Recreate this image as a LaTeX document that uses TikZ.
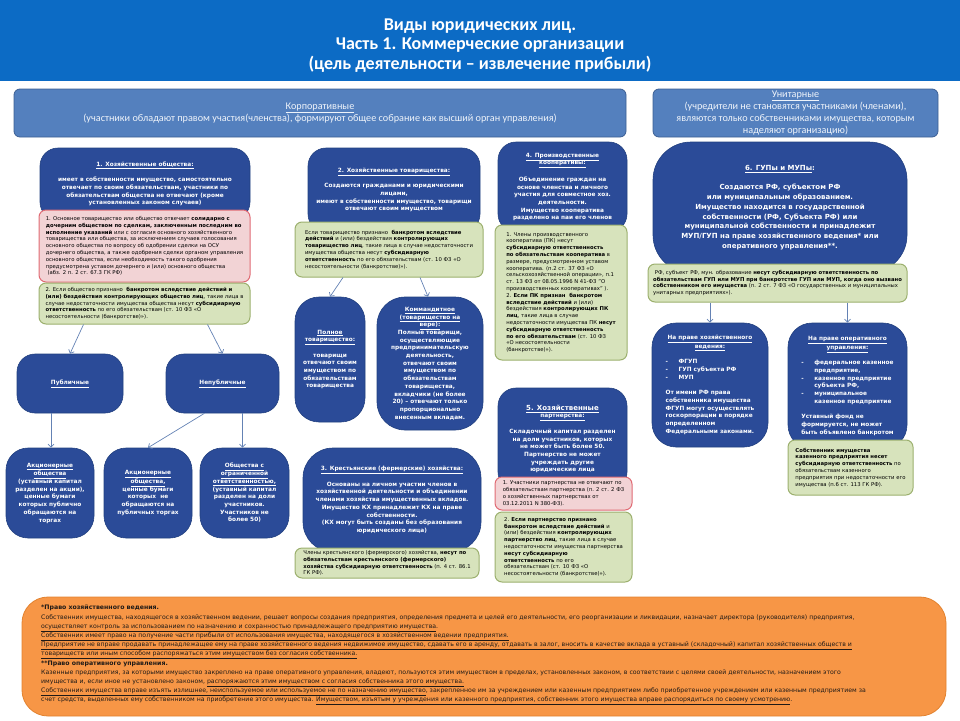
\documentclass[tikz,border=0pt]{standalone}
\usepackage{fontspec}
\setmainfont{DejaVu Sans}
\newfontfamily\calibfont{Carlito}
\usetikzlibrary{arrows.meta,positioning}
\definecolor{jlhead}{HTML}{0C6BC5}
\definecolor{jlband}{HTML}{5480BE}
\definecolor{jlbandline}{HTML}{3C5F93}
\definecolor{jlbandtext}{HTML}{EEF3FA}
\definecolor{jldark}{HTML}{2B4B98}
\definecolor{jldarkline}{HTML}{22407F}
\definecolor{jlpink}{HTML}{F2D3D5}
\definecolor{jlpinkline}{HTML}{E06B74}
\definecolor{jlgreen}{HTML}{D7E3BC}
\definecolor{jlgreenline}{HTML}{9CB06E}
\definecolor{jlorange}{HTML}{F79646}
\definecolor{jlorangeline}{HTML}{E2822F}
\definecolor{jlorangetext}{HTML}{1F1A17}
\definecolor{jlarrow}{HTML}{6482B4}
\newcommand{\titlefnt}{\calibfont\bfseries\fontsize{18}{19.3}\selectfont}
\newcommand{\bandfnt}{\calibfont\fontsize{10.2}{12}\selectfont}
\newcommand{\boxfnt}{\bfseries\fontsize{5.8}{7.7}\selectfont}
\newcommand{\bigboxfnt}{\bfseries\fontsize{7}{9.7}\selectfont}
\newcommand{\notefnt}{\fontsize{5.3}{6.8}\selectfont}
\newcommand{\orangefnt}{\fontsize{6.2}{9.2}\selectfont}

\begin{document}
\begin{tikzpicture}[x=1pt, y=-1pt,
    headband/.style={fill=jlhead, minimum width=960pt, minimum height=81pt, inner sep=0pt},
    band/.style={draw=jlbandline, fill=jlband, line width=0.8pt, rounded corners=6pt,
                 inner sep=0pt, text=jlbandtext, font=\bandfnt, align=center},
    darkbox/.style={draw=jldarkline, fill=jldark, line width=0.6pt, rounded corners=18pt,
                    inner sep=0pt, text=white, font=\boxfnt, align=center},
    pinknote/.style={draw=jlpinkline, fill=jlpink, line width=1pt, rounded corners=7pt,
                     inner sep=0pt, font=\notefnt, align=left},
    greennote/.style={draw=jlgreenline, fill=jlgreen, line width=1pt, rounded corners=7pt,
                      inner sep=0pt, font=\notefnt, align=left},
    arrow/.style={-{Straight Barb[length=3pt,width=6pt]}, draw=jlarrow, line width=0.7pt}
  ]
  \useasboundingbox (0,0) rectangle (960,720);

  % header and the two kinds
  \node[headband] (head) at (480,40.5) {};
  \node[text=white, font=\titlefnt, align=center, inner sep=0pt] (title) at (480,45.5) {Виды юридических лиц.\\Часть 1. Коммерческие организации\\(цель деятельности – извлечение прибыли)};
  \node[band, minimum width=612pt, minimum height=48pt] (corp) at (320,113)
    {\underline{Корпоративные}\\(участники обладают правом участия(членства), формируют общее собрание как высший орган управления)};
  \node[band, minimum width=285pt, minimum height=48pt] (unit) at (795.5,113)
    {\underline{Унитарные}\\(учредители не становятся участниками (членами),\\являются только собственниками имущества, которым\\наделяют организацию)};

  % 1. societies
  \node[darkbox, minimum width=210pt, minimum height=72pt] (hoz) at (145,184)
    {\underline{1. Хозяйственные общества:}\\[7.7pt]имеет в собственности имущество, самостоятельно\\отвечает по своим обязательствам, участники по\\обязательствам общества не отвечают (кроме\\установленных законом случаев)};
  \node[pinknote, minimum width=211pt, minimum height=72pt] (osn) at (144.5,246)
    {1. Основное товарищество или общество отвечает \textbf{солидарно с}\\
     \textbf{дочерним обществом по сделкам, заключенным последним во}\\
     \textbf{исполнение указаний} или с согласия основного хозяйственного\\
     товарищества или общества, за исключением случаев голосования\\
     основного общества по вопросу об одобрении сделки на ОСУ\\
     дочернего общества, а также одобрения сделки органом управления\\
     основного общества, если необходимость такого одобрения\\
     предусмотрена уставом дочернего и (или) основного общества\\
     \ (абз. 2 п. 2 ст. 67.3 ГК РФ)};
  \node[greennote, minimum width=211pt, minimum height=41pt] (bank1) at (144.5,303.5)
    {2. Если общество признано \ \textbf{банкротом вследствие действий и}\\
     \textbf{(или) бездействия контролирующих общество лиц}, такие лица в\\
     случае недостаточности имущества общества несут \textbf{субсидиарную}\\
     \textbf{ответственность} по его обязательствам (ст. 10 ФЗ «О\\
     несостоятельности (банкротстве)»).};
  \node[darkbox, minimum width=106pt, minimum height=59pt] (pub) at (70,383.5) {\underline{Публичные}};
  \node[darkbox, minimum width=113pt, minimum height=59pt] (npub) at (222.5,383.5) {\underline{Непубличные}};
  \node[darkbox, rounded corners=22pt, minimum width=88pt, minimum height=90pt] (aopub) at (50,493)
    {\underline{Акционерные}\\\underline{общества}\\(уставный капитал\\разделен на акции),\\ценные бумаги\\которых публично\\обращаются на\\торгах};
  \node[darkbox, rounded corners=22pt, minimum width=88pt, minimum height=90pt] (aonpub) at (148,493)
    {\underline{Акционерные}\\\underline{общества,}\\ценные бумаги\\которых \ не\\обращаются на\\публичных торгах};
  \node[darkbox, rounded corners=22pt, minimum width=89pt, minimum height=90pt] (ooo) at (244.5,493)
    {\underline{Общества с}\\\underline{ограниченной}\\\underline{ответственностью,}\\(уставный капитал\\разделен на доли\\участников.\\Участников не\\более 50)};
  \draw[arrow] ([xshift=-61pt]bank1.south) -- (pub.north);
  \draw[arrow] ([xshift=63pt]bank1.south) -- (npub.north);
  \draw[arrow] ([xshift=-19pt]pub.south) -- ([xshift=1pt]aopub.north);
  \draw[arrow] ([xshift=-18pt]npub.south) -- (aonpub.north);
  \draw[arrow] ([xshift=20pt]npub.south) -- ([xshift=-2pt]ooo.north);

  % 2. partnerships
  \node[darkbox, minimum width=172pt, minimum height=84pt] (tov) at (394,190)
    {\underline{2. Хозяйственные товарищества:}\\[7.7pt]Создаются гражданами и юридическими\\лицами,\\имеют в собственности имущество, товарищи\\отвечают своим имуществом};
  \node[greennote, minimum width=188pt, minimum height=55pt] (bank2) at (389,249.5)
    {Если товарищество признано \ \textbf{банкротом вследствие}\\
     \textbf{действий} и (или) бездействия \textbf{контролирующих}\\
     \textbf{товарищество лиц}, такие лица в случае недостаточности\\
     имущества общества несут \textbf{субсидиарную}\\
     \textbf{ответственность} по его обязательствам (ст. 10 ФЗ «О\\
     несостоятельности (банкротстве)»).};
  \node[darkbox, rounded corners=24pt, minimum width=70pt, minimum height=125pt] (poln) at (330,359.5)
    {\underline{Полное}\\\underline{товарищество:}\\[7.7pt]товарищи\\отвечают своим\\имуществом по\\обязательствам\\товарищества};
  \node[darkbox, rounded corners=28pt, minimum width=106pt, minimum height=133pt] (komm) at (430,363.5)
    {\underline{Коммандитное}\\\underline{(товарищество на}\\\underline{вере):}\\Полные товарищи,\\осуществляющие\\предпринимательскую\\деятельность,\\отвечают своим\\имуществом по\\обязательствам\\товарищества,\\вкладчики (не более\\20) – отвечают только\\пропорционально\\внесенным вкладам.};
  \draw[arrow] ([xshift=-46pt]bank2.south) -- (poln.north);
  \draw[arrow] ([xshift=31pt]bank2.south) -- ([xshift=-2pt]komm.north);

  % 3. farms
  \node[darkbox, rounded corners=30pt, minimum width=178pt, minimum height=104pt] (kfh) at (392,500)
    {\underline{3. Крестьянские (фермерские) хозяйства:}\\[7.7pt]Основаны на личном участии членов в\\хозяйственной деятельности и объединении\\членами хозяйства имущественных вкладов.\\Имущество КХ принадлежит КХ на праве\\собственности.\\(КХ могут быть созданы без образования\\юридического лица)};
  \node[greennote, minimum width=184pt, minimum height=30pt] (kfhnote) at (387,563)
    {Члены крестьянского (фермерского) хозяйства, \textbf{несут по}\\
     \textbf{обязательствам крестьянского (фермерского)}\\
     \textbf{хозяйства субсидиарную ответственность} (п. 4 ст. 86.1\\
     ГК РФ).};

  % 4. cooperatives
  \node[darkbox, minimum width=129pt, minimum height=90pt] (koop) at (562.5,187)
    {\underline{4. Производственные}\\\underline{кооперативы:}\\[7.7pt]Объединение граждан на\\основе членства и личного\\участия для совместное хоз.\\деятельности.\\Имущество кооператива\\разделено на паи его членов};
  \node[greennote, minimum width=132pt, minimum height=135pt] (koopnote) at (561,292.5)
    {1. Члены производственного\\
     кооператива (ПК) несут\\
     \textbf{субсидиарную ответственность}\\
     \textbf{по обязательствам кооператива} в\\
     размере, предусмотренном уставом\\
     кооператива. (п.2 ст. 37 ФЗ «О\\
     сельскохозяйственной операции», п.1\\
     ст. 13 ФЗ от 08.05.1996 N 41-ФЗ "О\\
     производственных кооперативах" ).\\
     2. \textbf{Если ПК признан \ банкротом}\\
     \textbf{вследствие действий} и (или)\\
     бездействия \textbf{контролирующих ПК}\\
     \textbf{лиц}, такие лица в случае\\
     недостаточности имущества ПК \textbf{несут}\\
     \textbf{субсидиарную ответственность}\\
     \textbf{по его обязательствам} (ст. 10 ФЗ\\
     «О несостоятельности\\
     (банкротстве)»).};

  % 5. business partnerships
  \node[darkbox, minimum width=129pt, minimum height=102pt] (part) at (562.5,439)
    {{\fontsize{7}{8}\selectfont\underline{5. Хозяйственные}}\\\underline{партнерства:}\\[7.7pt]Складочный капитал разделен\\на доли участников, которых\\не может быть более 50.\\Партнерство не может\\учреждать другие\\юридические лица};
  \node[pinknote, minimum width=137pt, minimum height=33pt] (partnote) at (563.5,493.5)
    {1. Участники партнерства не отвечают по\\
     обязательствам партнерства (п. 2 ст. 2 ФЗ\\
     о хозяйственных партнерствах от\\
     03.12.2011 N 380-ФЗ).};
  \node[greennote, minimum width=137pt, minimum height=70pt] (partbank) at (563.5,547)
    {2. \textbf{Если партнерство признано}\\
     \textbf{банкротом вследствие действий} и\\
     (или) бездействия \textbf{контролирующих}\\
     \textbf{партнерство лиц}, такие лица в случае\\
     недостаточности имущества партнерства\\
     \textbf{несут субсидиарную}\\
     \textbf{ответственность} по его\\
     обязательствам (ст. 10 ФЗ «О\\
     несостоятельности (банкротстве)»).};

  % 6. unitary enterprises
  \node[darkbox, rounded corners=38pt, font=\bigboxfnt, minimum width=254pt, minimum height=131pt] (gup) at (780,207.5)
    {\underline{6. ГУПы и МУПы}:\\[9.7pt]Создаются РФ, субъектом РФ\\или муниципальным образованием.\\Имущество находится в государственной\\собственности (РФ, Субъекта РФ) или\\муниципальной собственности и принадлежит\\МУП/ГУП на праве хозяйственного ведения* или\\оперативного управления**.};
  \node[greennote, minimum width=259pt, minimum height=38pt] (gupnote) at (777.5,283)
    {\ РФ, субъект РФ, мун. образование \textbf{несут субсидиарную ответственность по}\\
     \textbf{обязательствам ГУП или МУП при банкротстве ГУП или МУП, когда оно вызвано}\\
     \textbf{собственником его имущества} (п. 2 ст. 7 ФЗ «О государственных и муниципальных\\
     унитарных предприятиях»).};
  \node[darkbox, rounded corners=24pt, minimum width=116pt, minimum height=124pt] (hozved) at (710,385)
    {\begin{tabular}{@{}l@{}}
     \multicolumn{1}{@{}c@{}}{\underline{На праве хозяйственного}}\\
     \multicolumn{1}{@{}c@{}}{\underline{ведения:}}\\[7.7pt]
     \makebox[13pt][l]{-}ФГУП\\
     \makebox[13pt][l]{-}ГУП субъекта РФ\\
     \makebox[13pt][l]{-}МУП\\[7.7pt]
     От имени РФ права\\
     собственника имущества\\
     ФГУП могут осуществлять\\
     госкорпорации в порядке\\
     определенном\\
     Федеральными законами.
     \end{tabular}};
  \node[darkbox, rounded corners=24pt, minimum width=119pt, minimum height=126pt] (operup) at (847.5,386)
    {\begin{tabular}{@{}l@{}}
     \multicolumn{1}{@{}c@{}}{\underline{На праве оперативного}}\\
     \multicolumn{1}{@{}c@{}}{\underline{управления:}}\\[7.7pt]
     \makebox[13pt][l]{-}федеральное казенное\\
     \hspace{13pt}предприятие,\\
     \makebox[13pt][l]{-}казенное предприятие\\
     \hspace{13pt}субъекта РФ,\\
     \makebox[13pt][l]{-}муниципальное\\
     \hspace{13pt}казенное предприятие\\[7.7pt]
     Уставный фонд не\\
     формируется, не может\\
     быть объявлено банкротом
     \end{tabular}};
  \node[greennote, minimum width=125pt, minimum height=55pt] (kaznote) at (850.5,467.5)
    {\textbf{Собственник имущества}\\
     \textbf{казенного предприятия несет}\\
     \textbf{субсидиарную ответственность} по\\
     обязательствам казенного\\
     предприятия при недостаточности его\\
     имущества (п.6 ст. 113 ГК РФ).};
  \draw[arrow] ([xshift=-67.5pt]gupnote.south) -- (hozved.north);
  \draw[arrow] ([xshift=70pt]gupnote.south) -- (operup.north);

  % footnotes on the two property rights
  \node[draw=jlorangeline, fill=jlorange, line width=0.8pt, rounded corners=26pt,
        minimum width=924pt, minimum height=119pt] (legal) at (484,656.5) {};
  \node[anchor=north west, inner sep=0pt, font=\orangefnt, align=left, text=jlorangetext] (legaltext) at (41,605)
    {{\bfseries *Право хозяйственного ведения.}\\
     Собственник имущества, находящегося в хозяйственном ведении, решает вопросы создания предприятия, определения предмета и целей его деятельности, его реорганизации и ликвидации, назначает директора (руководителя) предприятия,\\
     \underline{осуществляет контроль за использованием по назначению и сохранностью принадлежащего предприятию имущества}.\\
     \underline{Собственник имеет право на получение части прибыли от использования имущества, находящегося в хозяйственном ведении предприятия.}\\
     \underline{Предприятие не вправе продавать принадлежащее ему на праве хозяйственного ведения недвижимое имущество, сдавать его в аренду, отдавать в залог, вносить в качестве вклада в уставный (складочный) капитал хозяйственных обществ и}\\
     \underline{товариществ или иным способом распоряжаться этим имуществом без согласия собственника.}\\
     {\bfseries **Право оперативного управления.}\\
     Казенные предприятия, за которыми имущество закреплено на праве оперативного управления, владеют, пользуются этим имуществом в пределах, установленных законом, в соответствии с целями своей деятельности, назначением этого\\
     имущества и, если иное не установлено законом, \underline{распоряжаются этим имуществом с согласия собственника этого имущества.}\\
     \underline{Собственник имущества вправе изъять излишнее, неиспользуемое или используемое не по назначению имущество}, закрепленное им за учреждением или казенным предприятием либо приобретенное учреждением или казенным предприятием за\\
     счет средств, выделенных ему собственником на приобретение этого имущества. \underline{Имуществом, изъятым у учреждения или казенного предприятия, собственник этого имущества вправе распорядиться по своему усмотрению}.};
\end{tikzpicture}
\end{document}
